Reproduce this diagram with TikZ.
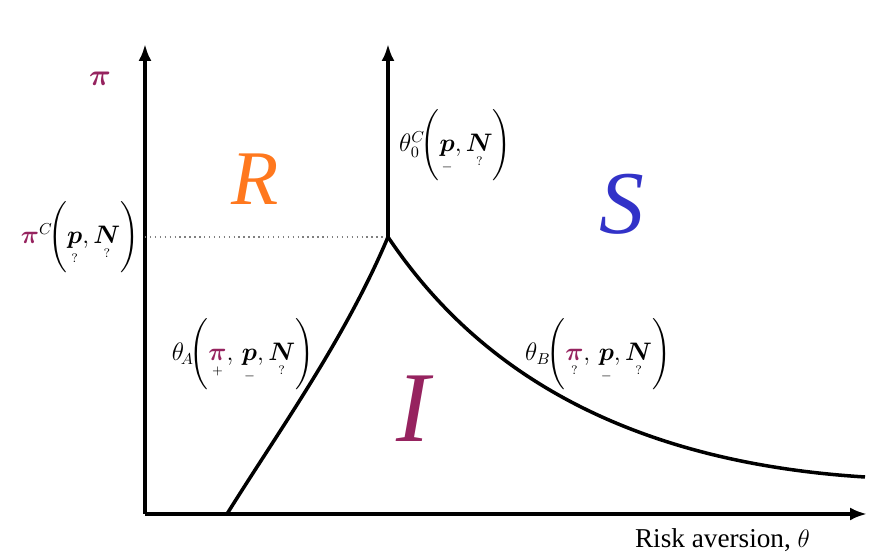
\documentclass[tikz,border=0pt]{standalone}
\usepackage{amsmath, amssymb, bm}
\usepackage{fontspec}
\setmainfont{Liberation Serif}
\usepackage{tikz}
\usetikzlibrary{arrows.meta, calc}

\definecolor{plum}{RGB}{150,35,95}
\definecolor{regionR}{RGB}{255,120,30}
\definecolor{regionS}{RGB}{50,50,200}

\tikzset{
  axis/.style={line width=2pt, -{Latex[length=3.4mm, width=2.6mm]}},
  bound/.style={line width=2pt},
  lbl/.style={font=\fontsize{13.5}{15}\selectfont},
}
\newcommand{\uq}[2]{\underset{\scriptscriptstyle #2}{#1}}

\begin{document}
\begin{tikzpicture}
  \useasboundingbox (0,0) rectangle (17.54,11.18);
  % axes
  \coordinate (O) at (2.9,0.9);
  \coordinate (Ytop) at (2.9,10.3);
  \coordinate (Xend) at (17.34,0.9);
  \draw[axis] (O) -- (Ytop);
  \draw[axis] (O) -- (Xend);
  % kink and boundaries
  \coordinate (K) at (7.76,6.44);
  \coordinate (Ktop) at (7.76,10.3);
  \coordinate (Y0) at (2.9,6.44);
  \coordinate (A0) at (4.54,0.9);
  \coordinate (B1) at (17.3,1.64);
  \draw[dotted, gray, line width=0.8pt] (Y0) -- (K);
  \draw[axis] (K) -- (Ktop);
  \draw[bound] (A0) .. controls (5.6,2.6) and (6.9,4.4) .. (K);
  \draw[bound] (K) .. controls (9.0,4.6) and (11.5,2.0) .. (B1);
  % regions
  \node[text=regionR, font=\fontsize{44}{46}\selectfont] (R) at (5.1,7.6) {\textit{R}};
  \node[text=regionS, font=\fontsize{51}{53}\selectfont] (S) at (12.44,7.1) {\textit{S}};
  \node[text=plum, font=\fontsize{57}{59}\selectfont] (I) at (8.3,3.0) {\textit{I}};
  % labels
  \node[text=plum, font=\fontsize{16}{18}\selectfont] (pi) at (2.0,9.6) {$\bm{\pi}$};
  \node[lbl] (piC) at (1.6,6.44) {$\textcolor{plum}{\bm{\pi}}^{C}\!\Biggl(\uq{\bm{p}}{?},\uq{\bm{N}}{?}\Biggr)$};
  \node[lbl, anchor=west] (th0) at (7.86,8.28) {$\theta_0^{C}\!\Biggl(\uq{\bm{p}}{-},\uq{\bm{N}}{?}\Biggr)$};
  \node[lbl] (thA) at (4.86,4.1) {$\theta_{\!A}\!\Biggl(\uq{\textcolor{plum}{\bm{\pi}}}{+},\,\uq{\bm{p}}{-},\uq{\bm{N}}{?}\Biggr)$};
  \node[lbl] (thB) at (11.96,4.1) {$\theta_{B}\!\Biggl(\uq{\textcolor{plum}{\bm{\pi}}}{?},\,\uq{\bm{p}}{-},\uq{\bm{N}}{?}\Biggr)$};
  \node[font=\fontsize{15.5}{17}\selectfont] (xlab) at (14.45,0.38) {Risk aversion, $\theta$};
\end{tikzpicture}
\end{document}
